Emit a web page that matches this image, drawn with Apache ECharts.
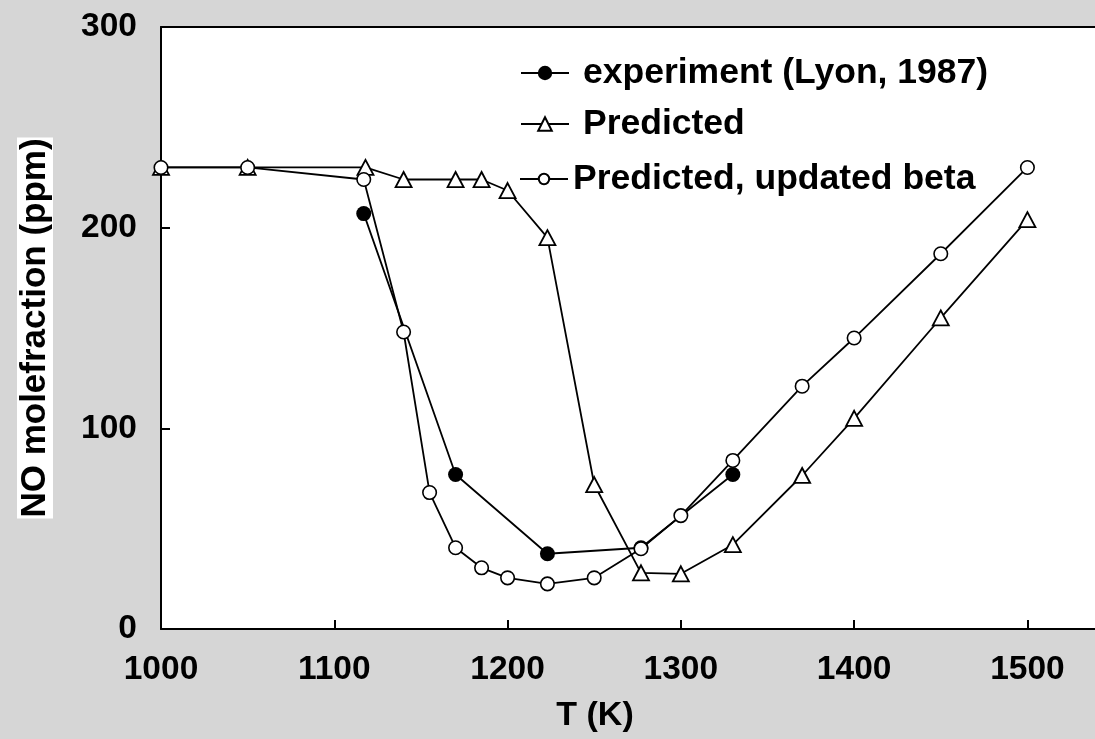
<!DOCTYPE html>
<html>
<head>
<meta charset="utf-8">
<script src="https://cdn.jsdelivr.net/npm/echarts@6/dist/echarts.min.js"></script>
<style>
  html, body { margin: 0; padding: 0; background: #d6d6d6; }
  #chart { width: 1095px; height: 739px; }
</style>
</head>
<body>
<div id="chart"></div>
<script>
// NO mole fraction vs. temperature: measurement and two model predictions
const experimentT  = [1117, 1170, 1223, 1277, 1330];
const experimentNO = [207, 77, 37.5, 40.5, 77];

const predictedT  = [1000, 1050, 1118, 1140, 1170, 1185, 1200, 1223, 1250, 1277, 1300, 1330, 1370, 1400, 1450, 1500];
const predictedNO = [230, 230, 230, 224, 224, 224, 218.5, 195, 72, 28, 27.5, 42, 76.5, 105, 155, 204];

const updatedT  = [1000, 1050, 1117, 1140, 1155, 1170, 1185, 1200, 1223, 1250, 1277, 1300, 1330, 1370, 1400, 1450, 1500];
const updatedNO = [230, 230, 224, 148, 68, 40.5, 30.5, 25.5, 22.5, 25.5, 40, 56.5, 84, 121, 145, 187, 230];

const seriesNames = ['experiment (Lyon, 1987)', 'Predicted', 'Predicted, updated beta'];
const xTitle = 'T (K)';
const yTitle = 'NO molefraction (ppm)';

const X_MIN = 1000, X_MAX = 1539;

const pairs = (xs, ys) => xs.map((x, i) => [x, ys[i]]);

const FONT = '"Liberation Sans", Arial, Helvetica, sans-serif';
const chart = echarts.init(document.getElementById('chart'), null, { renderer: 'canvas' });

const legendText = (padLeft) => ({
  fontFamily: FONT, fontWeight: 'bold', fontSize: 35.5, color: '#000',
  padding: [0, 0, 0, padLeft]
});

const tickFont = { fontFamily: FONT, fontWeight: 'bold', fontSize: 33.5, color: '#000' };

chart.setOption({
  backgroundColor: '#d6d6d6',
  animation: false,
  grid: {
    left: 161, top: 27, right: 0, bottom: 110,
    show: true, backgroundColor: '#fff', borderWidth: 0
  },
  legend: [
    { data: [seriesNames[0]], left: 520, top: 55, padding: 0, itemWidth: 48, itemHeight: 18,
      textStyle: legendText(9), selectedMode: false },
    { data: [seriesNames[1]], left: 520, top: 106, padding: 0, itemWidth: 48, itemHeight: 17,
      textStyle: legendText(9), selectedMode: false },
    { data: [seriesNames[2]], left: 519, top: 161, padding: 0, itemWidth: 48, itemHeight: 13,
      textStyle: legendText(0), selectedMode: false }
  ],
  xAxis: [
    {
      type: 'value', min: X_MIN, max: X_MAX, interval: 100,
      name: xTitle, nameLocation: 'middle', nameGap: 70,
      nameTextStyle: { fontFamily: FONT, fontWeight: 'bold', fontSize: 34, color: '#000',
        padding: [0, 66, 0, 0] },
      axisLine: { show: true, onZero: false, lineStyle: { color: '#000', width: 2 } },
      axisTick: { show: true, inside: true, length: 9, lineStyle: { color: '#000', width: 2 } },
      axisLabel: Object.assign({ margin: 24, showMaxLabel: false,
        formatter: (v) => String(v) }, tickFont),
      splitLine: { show: false }
    },
    {
      // frame line along the top of the plot
      type: 'value', position: 'top', min: X_MIN, max: X_MAX,
      axisLine: { show: true, onZero: false, lineStyle: { color: '#000', width: 2 } },
      axisTick: { show: false }, axisLabel: { show: false }, splitLine: { show: false }
    }
  ],
  yAxis: {
    type: 'value', min: 0, max: 300, interval: 100,
    name: yTitle, nameLocation: 'middle', nameGap: 108, nameRotate: 90,
    nameTextStyle: { fontFamily: FONT, fontWeight: 'bold', fontSize: 35, color: '#000',
      backgroundColor: '#fff', padding: [0, 1], lineHeight: 36 },
    axisLine: { show: true, onZero: false, lineStyle: { color: '#000', width: 2 } },
    axisTick: { show: true, inside: true, length: 9, lineStyle: { color: '#000', width: 2 } },
    axisLabel: Object.assign({ margin: 24, padding: [0, 0, 6, 0] }, tickFont),
    splitLine: { show: false }
  },
  series: [
    {
      name: seriesNames[0], type: 'line', data: pairs(experimentT, experimentNO),
      symbol: 'circle', symbolSize: 15, z: 2,
      lineStyle: { color: '#000', width: 1.8 },
      itemStyle: { color: '#000', borderColor: '#000', borderWidth: 0 }
    },
    {
      name: seriesNames[1], type: 'line', data: pairs(predictedT, predictedNO),
      symbol: 'triangle', symbolSize: [16, 15], z: 3,
      lineStyle: { color: '#000', width: 1.8 },
      itemStyle: { color: '#fff', borderColor: '#000', borderWidth: 1.8 }
    },
    {
      name: seriesNames[2], type: 'line', data: pairs(updatedT, updatedNO),
      symbol: 'circle', symbolSize: 13.5, z: 4,
      lineStyle: { color: '#000', width: 1.8 },
      itemStyle: { color: '#fff', borderColor: '#000', borderWidth: 1.6 }
    }
  ]
});
</script>
</body>
</html>
